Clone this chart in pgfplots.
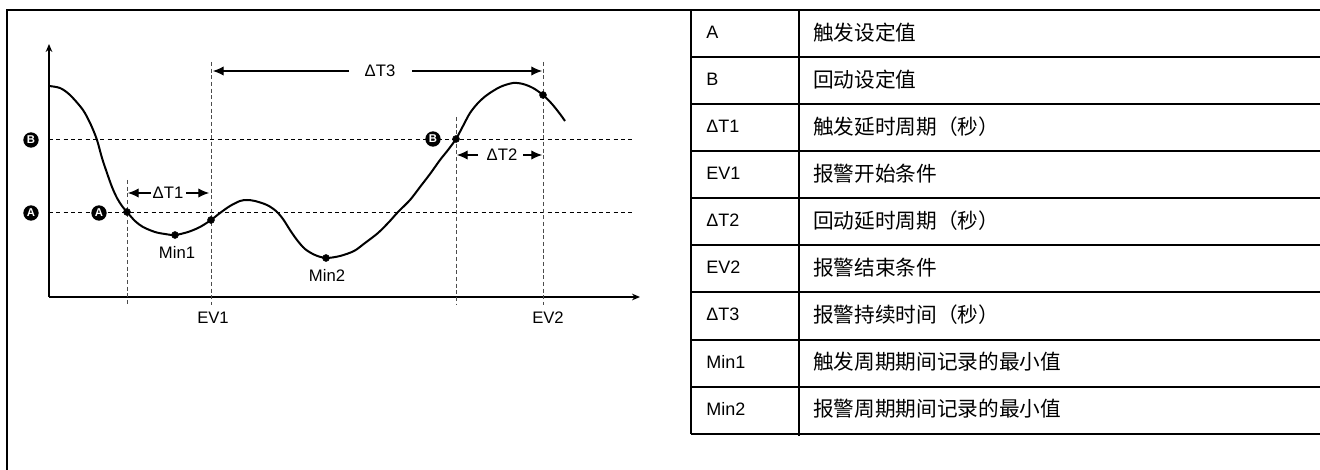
\documentclass[border=0pt]{standalone}
\usepackage{fontspec}
\setmainfont{Liberation Sans}
\newfontfamily\cjk{Noto Sans CJK SC}
\usepackage{pgfplots}
\pgfplotsset{compat=1.18}
\usetikzlibrary{arrows.meta}
\begin{document}
\begin{tikzpicture}
\tikzset{
  circ/.style={circle, fill=black, text=white, inner sep=0pt, minimum size=11.5pt, font=\bfseries\fontsize{8.5}{9}\selectfont},
  dim/.style={line width=0.8pt, -{Latex[length=8pt,width=7pt]}},
  lbl/.style={font=\fontsize{12.5}{14}\selectfont},
}
\begin{axis}[
  at={(36.75pt,-222.75pt)}, anchor=south west,
  scale only axis, width=443.25pt, height=189.75pt,
  xmin=0, xmax=591, ymin=0, ymax=253,
  axis lines=left,
  axis line style={line width=1pt, -{Stealth[length=6pt,width=5pt]}},
  ticks=none, clip=false,
]
% threshold lines
\addplot[black, line width=0.6pt, dash pattern=on 3pt off 2.5pt] coordinates {(0,158) (583,158)};
\addplot[black, line width=0.6pt, dash pattern=on 3pt off 2.5pt] coordinates {(0,85) (583,85)};
% event verticals
\addplot[black!70, line width=0.6pt, dash pattern=on 3pt off 2pt] coordinates {(78,117) (78,-8)};
\addplot[black!70, line width=0.6pt, dash pattern=on 3pt off 2pt] coordinates {(162,235) (162,-8)};
\addplot[black!70, line width=0.6pt, dash pattern=on 3pt off 2pt] coordinates {(407,180) (407,-8)};
\addplot[black!70, line width=0.6pt, dash pattern=on 3pt off 2pt] coordinates {(494,235) (494,-8)};
% signal
\addplot[black, line width=1.5pt, smooth, tension=0.5] coordinates {
(0,211) (11,209) (21,202) (34,187) (42,172) (48,157) (53,139) (58,124)
(63,110) (68,99) (73,91) (78,85) (86,76) (94,70) (106,65) (116,63)
(126,62) (139,65) (151,70) (162,77) (171,84) (181,91) (191,96) (198,97)
(206,96) (218,92) (227,86) (234,78) (241,67) (248,57) (256,48) (266,42)
(277,39) (291,41) (305,46) (316,54) (329,64) (340,75) (349,85) (361,97)
(371,110) (381,123) (391,137) (399,147) (407,158) (414,171) (421,184)
(429,194) (438,202) (451,210) (464,214) (474,213) (484,209) (494,202)
(503,193) (511,183) (516,176)};
% marked points
\addplot[only marks, mark=*, mark size=2.6pt, black] coordinates {
(78,85) (126,62) (162,77) (277,39) (407,158) (494,202)};
% labels
\node[lbl] at (axis cs:128,45) {Min1};
\node[lbl] at (axis cs:278,22) {Min2};
\node[lbl] at (axis cs:164,-21) {EV1};
\node[lbl] at (axis cs:499,-21) {EV2};
\node[circ] at (axis cs:-18,157) {B};
\node[circ] at (axis cs:-18,84) {A};
\node[circ] at (axis cs:50,84) {A};
\node[circ] at (axis cs:384,158) {B};
% dimension arrows
\draw[dim] (axis cs:102,104) -- (axis cs:79,104);
\draw[dim] (axis cs:137,104) -- (axis cs:160,104);
\node[lbl] at (axis cs:119,104) {ΔT1};
\draw[dim] (axis cs:429,142) -- (axis cs:408,142);
\draw[dim] (axis cs:474,142) -- (axis cs:493,142);
\node[lbl] at (axis cs:453,142) {ΔT2};
\draw[dim] (axis cs:300,226) -- (axis cs:164,226);
\draw[dim] (axis cs:363,226) -- (axis cs:493,226);
\node[lbl] at (axis cs:331,226) {ΔT3};
\end{axis}
\begin{scope}[x=0.75pt,y=-0.75pt]
% outer frame
\draw[line width=1.5pt] (7,470) -- (7,10) -- (1321,10);
% legend table
\foreach \y in {10,57,104,151,198,245,292,340,387,434}
  \draw[line width=1.25pt] (691,\y) -- (1321,\y);
\draw[line width=1.25pt] (691,10) -- (691,434);
\draw[line width=1.25pt] (799,10) -- (799,436);
\foreach \k/\a/\b in {0/A/触发设定值, 1/B/回动设定值, 2/ΔT1/触发延时周期（秒）,
  3/EV1/报警开始条件, 4/ΔT2/回动延时周期（秒）, 5/EV2/报警结束条件,
  6/ΔT3/报警持续时间（秒）, 7/Min1/触发周期期间记录的最小值, 8/Min2/报警周期期间记录的最小值} {
  \pgfmathsetmacro\yc{32.5+47*\k}
  \node[anchor=west, inner sep=0pt, font=\fontsize{13.5}{16}\selectfont] at (706,\yc) {\a};
  \node[anchor=west, inner sep=0pt, font=\cjk\fontsize{15.5}{18}\selectfont] at (813,\yc) {\b};
}
\pgfresetboundingbox
\path[use as bounding box] (0,0) rectangle (1320,470);
\end{scope}
\end{tikzpicture}
\end{document}
